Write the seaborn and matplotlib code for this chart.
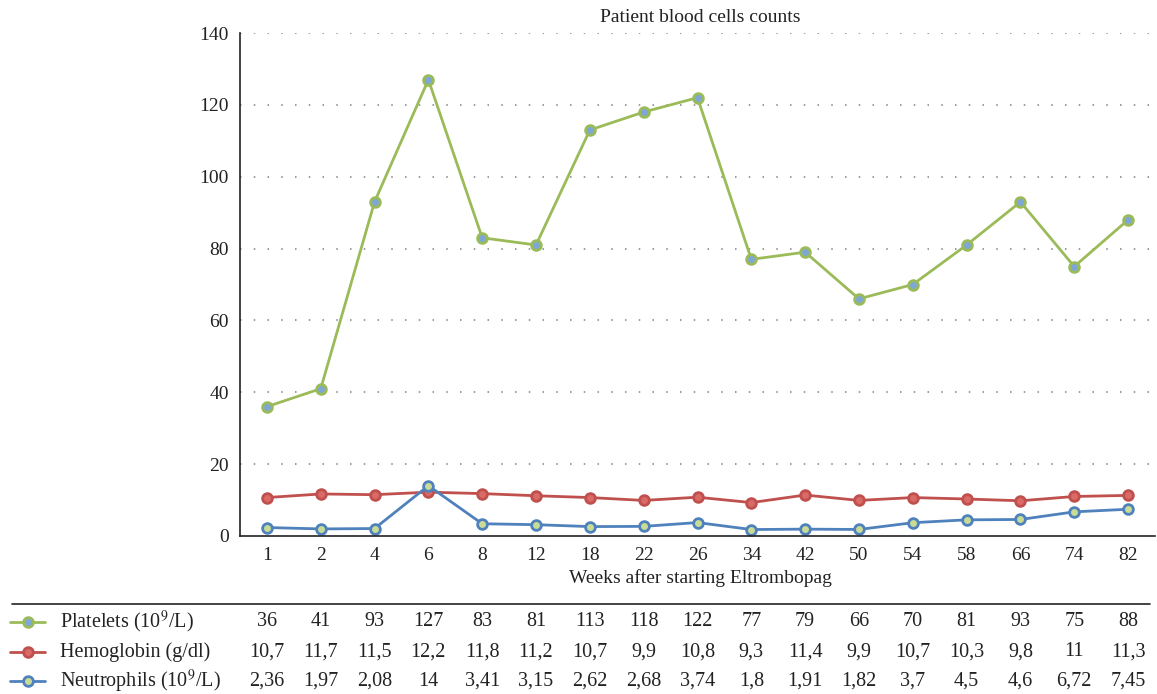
import matplotlib
matplotlib.use("Agg")
import matplotlib.pyplot as plt
import matplotlib.transforms as mtransforms
import pandas as pd
import seaborn as sns

weeks = ["1", "2", "4", "6", "8", "12", "18", "22", "26", "34", "42", "50", "54", "58", "66", "74", "82"]
platelets = [36, 41, 93, 127, 83, 81, 113, 118, 122, 77, 79, 66, 70, 81, 93, 75, 88]
hemoglobin = [10.7, 11.7, 11.5, 12.2, 11.8, 11.2, 10.7, 9.9, 10.8, 9.3, 11.4, 9.9, 10.7, 10.3, 9.8, 11, 11.3]
neutrophils = [2.36, 1.97, 2.08, 14, 3.41, 3.15, 2.62, 2.68, 3.74, 1.8, 1.91, 1.82, 3.7, 4.5, 4.6, 6.72, 7.45]

series_names = ["Platelets (10$^9$/L)", "Hemoglobin (g/dl)", "Neutrophils (10$^9$/L)"]
line_colors = ["#9BBB59", "#C0504D", "#4F81BD"]
face_colors = ["#7FA7D6", "#D96A66", "#C9DC97"]

sns.set_style("white")
plt.rcParams['font.family'] = ['Liberation Serif', 'DejaVu Serif']
plt.rcParams['mathtext.fontset'] = 'stix'

df = pd.DataFrame({"week": weeks, "plt": platelets, "hb": hemoglobin, "neu": neutrophils})

fig = plt.figure(figsize=(11.57, 6.94), dpi=100)
ax = fig.add_axes([240/1157, 1-536/694, 915/1157, (536-33)/694])

cols = ["plt", "hb", "neu"]
for c, lc, fc in zip(cols, line_colors, face_colors):
    sns.lineplot(data=df, x="week", y=c, ax=ax, sort=False, color=lc, linewidth=2,
                 marker="o", markersize=7, markerfacecolor=fc, markeredgecolor=lc,
                 markeredgewidth=2)

ax.set_xlim(-0.5, len(weeks) - 0.5)
ax.set_ylim(0, 140)
ax.set_yticks(range(0, 141, 20))
for yv in range(20, 141, 20):
    ax.axhline(yv, color="#808080", linestyle=(0, (1, 8)), linewidth=1.1, zorder=0)
ax.spines["top"].set_visible(False)
ax.spines["right"].set_visible(False)
for s in ["left", "bottom"]:
    ax.spines[s].set_color("#222222")
    ax.spines[s].set_linewidth(1.2)
ax.tick_params(direction="in", length=5, width=1.2, labelsize=14, colors="#222222", pad=8)
ax.set_xlabel("")
ax.set_ylabel("")

fig.text(700/1157, 1-18/694, "Patient blood cells counts", ha="center", va="center", fontsize=14, color="#222222")
fig.text(700/1157, 1-578/694, "Weeks after starting Eltrombopag", ha="center", va="center", fontsize=14, color="#222222")

# table below the chart
fig.add_artist(plt.Line2D([12/1157, 1150/1157], [1-604/694, 1-604/694], color="#222222", linewidth=1.2))
trans = mtransforms.blended_transform_factory(ax.transData, fig.transFigure)
rows_y = [1-622/694, 1-652/694, 1-681/694]
values = [platelets, hemoglobin, neutrophils]
for name, lc, fc, vals, yv in zip(series_names, line_colors, face_colors, values, rows_y):
    fig.add_artist(plt.Line2D([10/1157, 45/1157], [yv, yv], color=lc, linewidth=2))
    fig.add_artist(plt.Line2D([28/1157], [yv], color=lc, marker="o", markersize=7,
                              markerfacecolor=fc, markeredgecolor=lc, markeredgewidth=2))
    fig.text(60/1157, yv, name, ha="left", va="center", fontsize=14.5, color="#222222")
    for i, v in enumerate(vals):
        ax.text(i, yv, f"{v:g}".replace(".", ","), transform=trans, ha="center", va="center",
                fontsize=14.5, color="#222222")

fig.savefig("out.png", dpi=100)
